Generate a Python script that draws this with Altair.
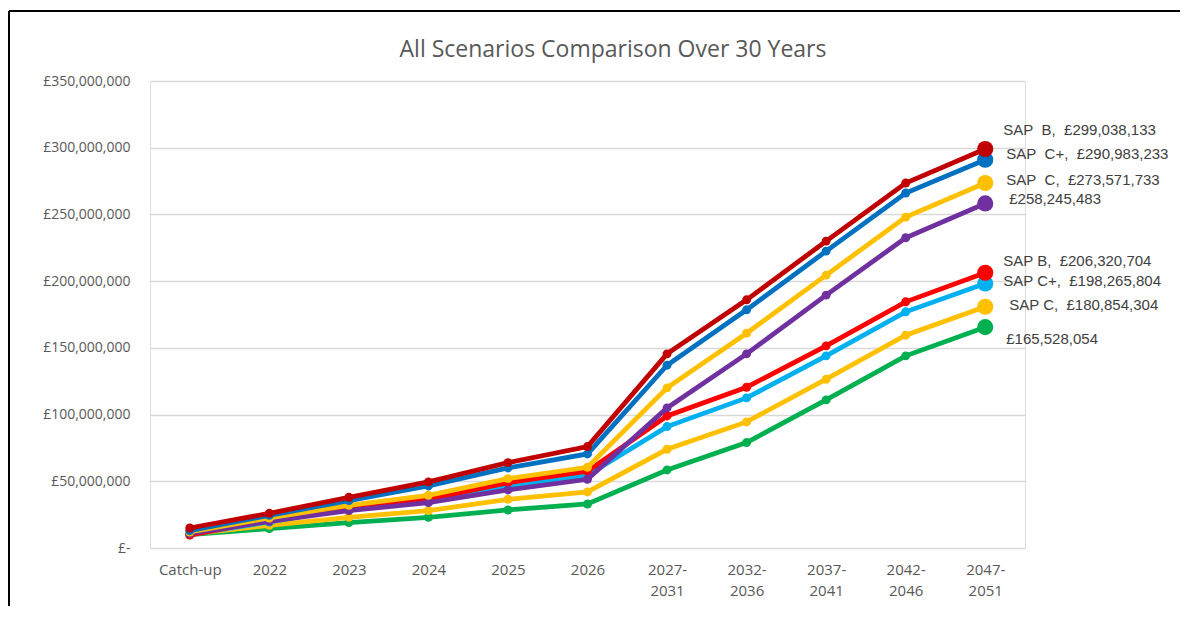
import altair as alt
import pandas as pd

categories = ["Catch-up", "2022", "2023", "2024", "2025", "2026",
              "2027-2031", "2032-2036", "2037-2041", "2042-2046", "2047-2051"]

# values in pounds (millions, final values from labels)
sap_b_high = [15.0, 26.0, 38.0, 49.5, 64.0, 76.0, 145.5, 186.0, 230.0, 273.5, 299.038133]
sap_cplus_high = [13.0, 24.5, 35.5, 46.5, 60.0, 70.5, 137.0, 178.5, 222.5, 266.0, 290.983233]
sap_c_high = [12.0, 22.5, 32.0, 39.5, 52.0, 60.5, 120.0, 161.0, 204.5, 248.0, 273.571733]
purple_high = [11.0, 20.0, 28.0, 34.0, 43.5, 51.5, 105.0, 145.5, 189.5, 232.5, 258.245483]
sap_b_low = [9.7, 21.0, 30.5, 36.5, 49.0, 57.5, 99.0, 120.5, 151.5, 184.5, 206.320704]
sap_cplus_low = [10.0, 19.5, 29.5, 36.0, 46.0, 54.5, 91.0, 112.5, 144.0, 177.0, 198.265804]
sap_c_low = [10.5, 17.0, 23.0, 28.0, 36.5, 42.0, 74.0, 94.5, 126.5, 159.5, 180.854304]
green_low = [10.0, 14.5, 19.0, 23.0, 28.5, 33.0, 58.5, 79.0, 111.0, 144.0, 165.528054]

series_names = ["SAP B high", "SAP C+ high", "SAP C high", "Scenario 4 high",
                "SAP B low", "SAP C+ low", "SAP C low", "Scenario 4 low"]
series_values = [sap_b_high, sap_cplus_high, sap_c_high, purple_high,
                 sap_b_low, sap_cplus_low, sap_c_low, green_low]
end_labels = ["SAP  B,  £299,038,133", "SAP  C+,  £290,983,233", "SAP  C,  £273,571,733",
              "£258,245,483", "SAP B,  £206,320,704", "SAP C+,  £198,265,804",
              "SAP C,  £180,854,304", "£165,528,054"]
title_text = "All Scenarios Comparison Over 30 Years"

# styles
colors = ["#C00000", "#0070C0", "#FFC000", "#7030A0",
          "#FF0000", "#00B0F0", "#FFC000", "#00B050"]
label_dx = [18, 21, 21, 24, 18, 18, 24, 21]
label_dy = [-19, -6, -3, -4, -12, -2, -2, 12]

rows = []
for name, vals in zip(series_names, series_values):
    for i, (c, v) in enumerate(zip(categories, vals)):
        rows.append({"series": name, "category": c, "value": v * 1_000_000,
                     "last": i == len(categories) - 1})
df = pd.DataFrame(rows)

FONT = "Open Sans"
GREY = "#595959"

x_enc = alt.X("category:N", sort=categories,
              scale=alt.Scale(type="point", padding=0.5),
              axis=alt.Axis(title=None, labelAngle=0, ticks=False, domain=False, grid=False,
                            labelColor=GREY, labelFont=FONT, labelFontSize=15,
                            labelPadding=14, labelLineHeight=21,
                            labelExpr="length(datum.label) > 8 ? [slice(datum.label, 0, 5), slice(datum.label, 5)] : datum.label"))
y_enc = alt.Y("value:Q",
              scale=alt.Scale(domain=[0, 350_000_000], nice=False),
              axis=alt.Axis(title=None, values=list(range(0, 350_000_001, 50_000_000)),
                            ticks=False, domain=False, grid=True, gridColor="#D9D9D9",
                            gridWidth=1.3, labelColor=GREY, labelFont=FONT, labelFontSize=14,
                            labelPadding=20,
                            labelExpr="datum.value == 0 ? '£-\u2007' : '£' + format(datum.value, ',')"))

layers = []
order = list(range(len(series_names)))[::-1]
for idx in order:
    name = series_names[idx]
    base = alt.Chart(df).transform_filter(alt.datum.series == name)
    layers.append(base.mark_line(color=colors[idx], strokeWidth=4.8).encode(x=x_enc, y=y_enc))
    layers.append(base.transform_filter(alt.datum.last == False)
                  .mark_circle(color=colors[idx], size=80, opacity=1).encode(x=x_enc, y=y_enc))
    layers.append(base.transform_filter(alt.datum.last == True)
                  .mark_circle(color=colors[idx], size=260, opacity=1).encode(x=x_enc, y=y_enc))

for idx in range(len(series_names)):
    name = series_names[idx]
    txt = end_labels[idx].replace("  ", "\u00a0 ")
    layers.append(alt.Chart(df).transform_filter((alt.datum.series == name) & (alt.datum.last == True))
                  .mark_text(align="left", baseline="middle", dx=label_dx[idx], dy=label_dy[idx],
                             font="Liberation Sans", fontSize=15, color="#404040",
                             text=txt)
                  .encode(x=x_enc, y=y_enc))

frame_top = alt.Chart(df).mark_rule(color="black", strokeWidth=2).encode(
    x=alt.value(-141), x2=alt.value(1030), y=alt.value(-70))
frame_left = alt.Chart(df).mark_rule(color="black", strokeWidth=2).encode(
    x=alt.value(-141), y=alt.value(-70), y2=alt.value(525))
title = alt.Chart(df).transform_filter(alt.datum.last == True).transform_filter(
    alt.datum.series == series_names[0]).mark_text(
    text=title_text, fontSize=23, font=FONT, color=GREY,
    align="center", baseline="middle").encode(x=alt.value(463), y=alt.value(-31))

chart = alt.layer(frame_top, frame_left, title, *layers).properties(
    width=875, height=467,
    padding={"left": 0, "top": 2, "right": 0, "bottom": 0},
).configure_view(stroke="#D9D9D9", strokeWidth=1.3).configure(background="white")

chart.save("out.html", embed_options={"renderer": "svg", "actions": False})
